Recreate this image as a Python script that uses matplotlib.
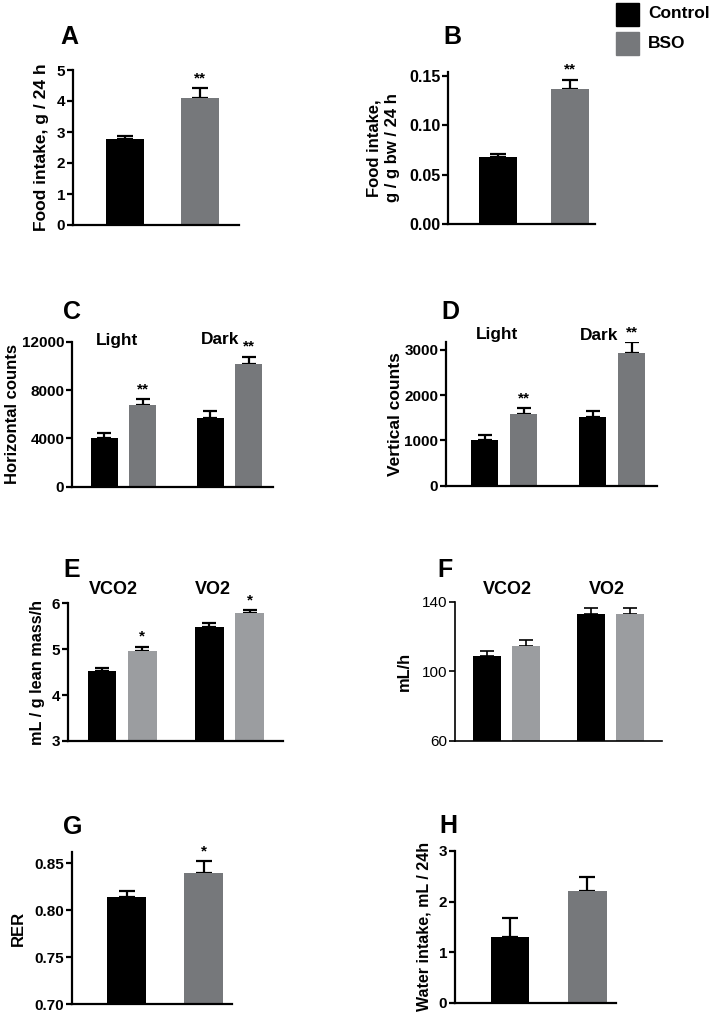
import numpy as np
import matplotlib
matplotlib.use("Agg")
import matplotlib.pyplot as plt

plt.rcParams['font.family'] = ['Liberation Sans', 'DejaVu Sans']
plt.rcParams['font.weight'] = 'bold'

W, H = 712, 1017
BLACK = '#000000'
GRAY = '#76787b'
LGRAY = '#9b9da0'

# A - food intake
food_mean = [2.76, 4.09]
food_err = [0.11, 0.32]
# B - food intake per g bw
foodbw_mean = [0.0682, 0.137]
foodbw_err = [0.0028, 0.009]
# C - horizontal counts (ctrl light, bso light, ctrl dark, bso dark)
hcount_mean = [4055, 6786, 5710, 10130]
hcount_err = [365, 472, 555, 630]
# D - vertical counts
vcount_mean = [1010, 1592, 1519, 2926]
vcount_err = [110, 119, 139, 244]
# E - VCO2 / VO2 per lean mass
lean_mean = [4.525, 4.96, 5.49, 5.78]
lean_err = [0.055, 0.09, 0.09, 0.07]
# F - VCO2 / VO2 mL/h
mlh_mean = [108.8, 114.4, 132.9, 132.9]
mlh_err = [3.1, 3.4, 3.5, 3.5]
# G - RER
rer_mean = [0.8138, 0.8394]
rer_err = [0.0067, 0.013]
# H - water intake
water_mean = [1.305, 2.21]
water_err = [0.375, 0.27]

fig = plt.figure(figsize=(W / 100, H / 100), dpi=100)


def px_axes(x0, x1, ytop, ybot):
    return fig.add_axes([x0 / W, 1 - ybot / H, (x1 - x0) / W, (ybot - ytop) / H])


def fig_text(x, y, s, size, **kw):
    fig.text(x / W, 1 - y / H, s, fontsize=size, fontweight='bold',
             ha='center', va='center', **kw)


def panel(box, pos, means, errs, colors, width, xlim, ylim, yticks, ticklabels,
          ylabel, label_off, stars=None, capsize=6, lw=1.6, tickweight='bold',
          labelsize=12, ticksize=11):
    ax = px_axes(*box)
    ax.bar(pos, means, width=width, color=colors, zorder=2)
    ax.errorbar(pos, means, yerr=[np.zeros(len(means)), errs], fmt='none',
                ecolor='black', elinewidth=lw, capsize=capsize, capthick=lw, zorder=1)
    ax.set_xlim(*xlim)
    ax.set_ylim(*ylim)
    ax.set_yticks(yticks)
    ax.set_yticklabels(ticklabels, fontsize=ticksize, fontweight=tickweight)
    ax.set_xticks([])
    for s in ['top', 'right']:
        ax.spines[s].set_visible(False)
    for s in ['left', 'bottom']:
        ax.spines[s].set_linewidth(lw)
    ax.tick_params(axis='y', length=4, width=lw, pad=1.5)
    ax.set_ylabel(ylabel, fontsize=labelsize, fontweight='bold', linespacing=1.25)
    ax.yaxis.set_label_coords(label_off / (box[1] - box[0]), 0.5)
    ax.yaxis.label.set_va('center')
    if stars:
        for i, s in stars.items():
            ax.annotate(s, (pos[i], means[i] + errs[i]), xytext=(0, 10),
                        textcoords='offset pixels', ha='center', va='center',
                        fontsize=11, fontweight='bold')
    ax.set_facecolor('none')
    return ax


two = [0, 1]
grp = [0, 1, 2.75, 3.75]

panel((73, 239, 70, 225), two, food_mean, food_err, [BLACK, GRAY], 0.507,
      (-0.693, 1.52), (0, 5), range(0, 6), [str(v) for v in range(0, 6)],
      'Food intake, g / 24 h', -31, stars={1: '**'}, labelsize=12.5)

panel((448, 595, 71.7, 224.3), two, foodbw_mean, foodbw_err, [BLACK, GRAY], 0.53,
      (-0.694, 1.347), (0, 0.154), [0, 0.05, 0.10, 0.15],
      ['0.00', '0.05', '0.10', '0.15'],
      'Food intake,\ng / g bw / 24 h', -65, stars={1: '**'}, ticksize=11.5)

panel((72, 273, 341.7, 486.7), grp, hcount_mean, hcount_err, [BLACK, GRAY] * 2, 0.7,
      (-0.844, 4.38), (0, 12000), [0, 4000, 8000, 12000],
      ['0', '4000', '8000', '12000'],
      'Horizontal counts', -60, stars={1: '**', 3: '**'}, capsize=5)

panel((446, 657, 341.7, 485.7), grp, vcount_mean, vcount_err, [BLACK, GRAY] * 2, 0.69,
      (-0.98, 4.39), (0, 3180), [0, 1000, 2000, 3000],
      ['0', '1000', '2000', '3000'],
      'Vertical counts', -51, stars={1: '**', 3: '**'}, capsize=5, labelsize=12.5)

panel((68, 283, 603.3, 741), [0, 1, 2.67, 3.67], lean_mean, lean_err, [BLACK, LGRAY] * 2, 0.72,
      (-0.845, 4.5), (3, 6), [3, 4, 5, 6], ['3', '4', '5', '6'],
      'mL / g lean mass/h', -30, stars={1: '*', 3: '*'}, capsize=5, labelsize=11.7)

panel((455, 662, 601.7, 741), [0, 1, 2.67, 3.67], mlh_mean, mlh_err, [BLACK, LGRAY] * 2, 0.72,
      (-0.82, 4.49), (60, 140), [60, 100, 140], ['60', '100', '140'],
      'mL/h', -51, capsize=5, lw=1.2, tickweight='normal', labelsize=11.8)

panel((72, 232, 851.7, 1004.3), two, rer_mean, rer_err, [BLACK, GRAY], 0.506,
      (-0.714, 1.364), (0.70, 0.8624), [0.70, 0.75, 0.80, 0.85],
      ['0.70', '0.75', '0.80', '0.85'],
      'RER', -54, stars={1: '*'})

panel((455, 616, 851, 1002.7), two, water_mean, water_err, [BLACK, GRAY], 0.5,
      (-0.71, 1.37), (0, 3), [0, 1, 2, 3], ['0', '1', '2', '3'],
      'Water intake, mL / 24h', -31, labelsize=11.5)

# panel letters
for s, x, y in [('A', 69, 37), ('B', 452, 37), ('C', 72, 312), ('D', 450, 312),
                ('E', 72, 570), ('F', 445, 570), ('G', 73, 827), ('H', 448, 826)]:
    fig_text(x, y, s, 18)

# group labels
for s, x, y in [('Light', 117, 340), ('Dark', 220, 340), ('Light', 497, 335), ('Dark', 599, 335)]:
    fig_text(x, y, s, 12.4)
for s, x, y in [('VCO2', 113, 590), ('VO2', 213, 590), ('VCO2', 507, 589), ('VO2', 607, 589)]:
    fig_text(x, y, s, 13)

# legend
lax = fig.add_axes([0, 0, 1, 1], facecolor='none')
lax.set_xlim(0, W)
lax.set_ylim(H, 0)
lax.axis('off')
for name, col, yc in [('Control', BLACK, 14), ('BSO', GRAY, 43.5)]:
    lax.add_patch(plt.Rectangle((616, yc - 11.5), 23, 23, color=col))
    lax.text(648, yc, name, fontsize=12.5, fontweight='bold', va='center', ha='left')

fig.savefig('out.png', dpi=100)
